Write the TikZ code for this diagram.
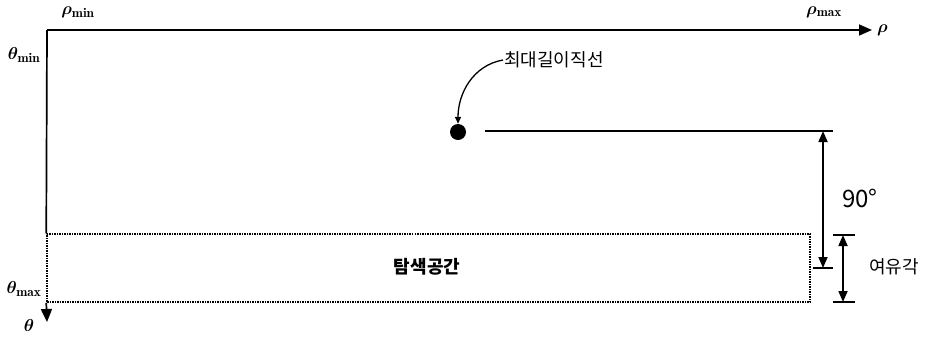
\documentclass[tikz,border=0pt]{standalone}
\usepackage{amsmath,amssymb}
\usepackage{bm}
\usepackage{fontspec}
\newfontfamily\kor{Noto Sans CJK KR}
\usetikzlibrary{arrows.meta,positioning,calc}

\begin{document}
\begin{tikzpicture}[
    x=1pt, y=-1pt,
    axis/.style={-{Triangle[length=13pt, width=11pt]}, line width=1.7pt},
    dim/.style={{Triangle[length=11pt, width=9pt]}-{Triangle[length=11pt, width=9pt]}, line width=1.7pt},
    searchbox/.style={rectangle, draw, densely dotted, line width=1.5pt, inner sep=0pt},
    dot/.style={circle, fill=black, inner sep=0pt, minimum size=16pt},
    lbl/.style={font=\kor\fontsize{18}{20}\selectfont, inner sep=1pt},
    mlbl/.style={font=\fontsize{19}{21}\selectfont, inner sep=1pt}
]
    \useasboundingbox (0,0) rectangle (927,341);

    % Axes
    \coordinate (O) at (47,30);
    \coordinate (rhoend) at (872,30);
    \coordinate (thetaend) at (47,322);
    \node[searchbox, minimum width=763pt, minimum height=68pt] (space) at (428.5,268) {};
    \node[lbl, font=\kor\bfseries\fontsize{18}{20}\selectfont] (spacetxt) at (427,267) {탐색공간};
    \draw[axis] (O) -- (rhoend);
    \draw[line width=1.7pt] (O) -- (space.north west);
    \draw[axis] (space.south west) -- (thetaend);

    % Axis labels
    \node[mlbl] (rhomin) at (78,12) {$\bm{\rho}_{\mathbf{min}}$};
    \node[mlbl] (rhomax) at (824,12) {$\bm{\rho}_{\mathbf{max}}$};
    \node[mlbl, right=4pt of rhoend] (rho) {$\bm{\rho}$};
    \node[mlbl] (thmin) at (24,55) {$\bm{\theta}_{\mathbf{min}}$};
    \node[mlbl] (thmax) at (24,289) {$\bm{\theta}_{\mathbf{max}}$};
    \node[mlbl] (th) at (29,325) {$\bm{\theta}$};

    % Longest line
    \node[dot] (pt) at (458,132) {};
    \coordinate (linestart) at (485,131);
    \coordinate (lineend) at (833,131);
    \draw[line width=1.7pt] (linestart) -- (lineend);
    \node[lbl, anchor=west] (longest) at (503,60) {최대길이직선};
    \draw[-{Triangle[length=7pt, width=6pt]}, line width=1.3pt] (longest.west) to[out=190, in=90] (pt.north);

    % 90 degree span
    \coordinate (d1top) at (823,131);
    \coordinate (d1bot) at (823,268);
    \draw[dim] (d1top) -- (d1bot);
    \draw[line width=1.5pt] (813,268) -- (833,268);
    \node[lbl, font=\kor\fontsize{24}{26}\selectfont] (deg) at (860,198) {90°};

    % Margin span
    \coordinate (d2top) at (843,235);
    \coordinate (d2bot) at (843,302);
    \draw[dim] (d2top) -- (d2bot);
    \draw[line width=1.5pt] (833,235) -- (855,235);
    \draw[line width=1.5pt] (833,302) -- (855,302);
    \node[lbl] (margin) at (894,267) {여유각};
\end{tikzpicture}
\end{document}
